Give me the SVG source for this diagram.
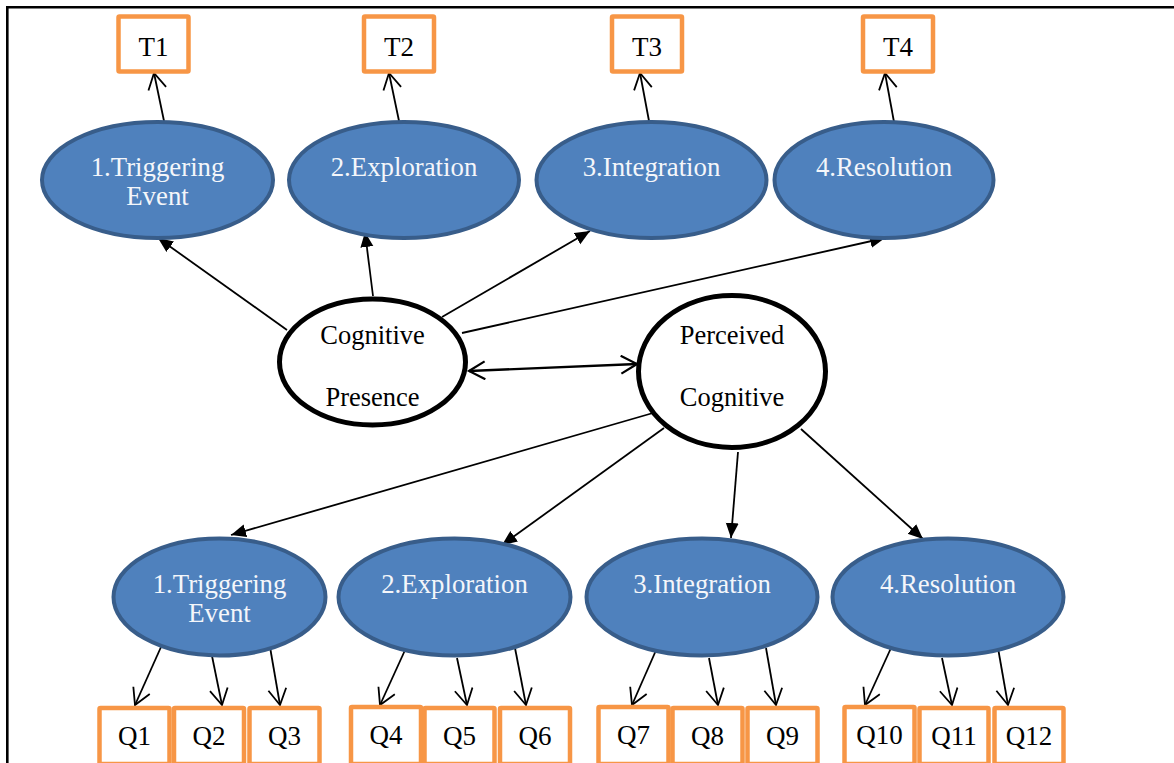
<svg xmlns="http://www.w3.org/2000/svg" width="1174" height="763" viewBox="0 0 1174 763">
<style>
.frame{fill:none;stroke:#000;stroke-width:2.6}
.box{fill:#fff;stroke:#F79646;stroke-width:4.5}
.lat{fill:#4F81BD;stroke:#385D8A;stroke-width:4}
.main{fill:#fff;stroke:#000;stroke-width:5}
.bt{font-family:"Liberation Serif","Times New Roman",serif;font-size:27px;fill:#000;text-anchor:middle}
.lt{font-family:"Liberation Serif","Times New Roman",serif;font-size:26.8px;fill:#F4F6FA;text-anchor:middle}
.ct{font-family:"Liberation Serif","Times New Roman",serif;font-size:26.5px;fill:#000;text-anchor:middle}
.c{stroke:#000;stroke-width:1.8;fill:none}
.cf{stroke:#000;stroke-width:1.8;fill:none;marker-end:url(#tri)}
.co{stroke:#000;stroke-width:1.8;fill:none;marker-end:url(#vee)}
</style>
<defs>
<marker id="tri" markerUnits="userSpaceOnUse" markerWidth="16" markerHeight="14" refX="15" refY="6.5" orient="auto" viewBox="0 0 16 14">
<path d="M0,0 L15,6.5 L0,13 z" fill="#000"/>
</marker>
<marker id="vee" markerUnits="userSpaceOnUse" markerWidth="20" markerHeight="22" refX="17" refY="10" orient="auto" viewBox="0 0 20 22">
<path d="M1,1 L17,10 L1,19" fill="none" stroke="#000" stroke-width="1.8"/>
</marker>
<marker id="vee2" markerUnits="userSpaceOnUse" markerWidth="20" markerHeight="22" refX="17" refY="10" orient="auto-start-reverse" viewBox="0 0 20 22">
<path d="M1,1 L17,10 L1,19" fill="none" stroke="#000" stroke-width="2.2"/>
</marker>
</defs>
<rect width="1174" height="763" fill="#fff"/>
<path class="frame" d="M7.3,763 L7.3,7.3 L1174,7.3"/>

<g id="connectors">
<line class="co" x1="164" y1="121" x2="154" y2="73"/>
<line class="co" x1="399" y1="121" x2="389" y2="73"/>
<line class="co" x1="649" y1="121" x2="640" y2="73"/>
<line class="co" x1="894" y1="122" x2="885" y2="73"/>
<line class="cf" x1="287" y1="330" x2="158" y2="238"/>
<line class="cf" x1="373" y1="296" x2="365" y2="232"/>
<line class="cf" x1="442" y1="317" x2="590" y2="231"/>
<line class="cf" x1="462" y1="333" x2="885" y2="238"/>
<line x1="469" y1="371" x2="637" y2="364" stroke="#000" stroke-width="2.4" marker-start="url(#vee2)" marker-end="url(#vee2)"/>
<line class="cf" x1="653" y1="413" x2="231" y2="535"/>
<line class="cf" x1="664" y1="428" x2="502" y2="545"/>
<line class="cf" x1="738" y1="452" x2="731" y2="538"/>
<line class="cf" x1="801" y1="429" x2="923" y2="539"/>
<line class="co" x1="161" y1="647" x2="135" y2="705"/>
<line class="co" x1="212" y1="656" x2="222" y2="705"/>
<line class="co" x1="270" y1="647" x2="280" y2="705"/>
<line class="co" x1="406" y1="648" x2="380" y2="705"/>
<line class="co" x1="457" y1="658" x2="467" y2="705"/>
<line class="co" x1="515" y1="648" x2="526" y2="705"/>
<line class="co" x1="657" y1="648" x2="632" y2="705"/>
<line class="co" x1="709" y1="658" x2="718" y2="705"/>
<line class="co" x1="766" y1="648" x2="776" y2="705"/>
<line class="co" x1="891" y1="648" x2="865" y2="705"/>
<line class="co" x1="942" y1="658" x2="952" y2="705"/>
<line class="co" x1="998" y1="648" x2="1008" y2="705"/>
</g>

<g id="T1"><rect class="box" x="118.5" y="16.5" width="70" height="55" rx="1"/><text class="bt" x="153.5" y="56">T1</text></g>
<g id="T2"><rect class="box" x="364" y="16.5" width="70" height="55" rx="1"/><text class="bt" x="399" y="56">T2</text></g>
<g id="T3"><rect class="box" x="612" y="16.5" width="70" height="55" rx="1"/><text class="bt" x="647" y="56">T3</text></g>
<g id="T4"><rect class="box" x="863" y="16.5" width="70" height="55" rx="1"/><text class="bt" x="898" y="56">T4</text></g>

<g id="E1"><ellipse class="lat" cx="157.5" cy="180" rx="115.5" ry="58"/><text class="lt" x="157.5" y="176">1.Triggering</text><text class="lt" x="157.5" y="205">Event</text></g>
<g id="E2"><ellipse class="lat" cx="404" cy="180" rx="115" ry="58"/><text class="lt" x="404" y="176">2.Exploration</text></g>
<g id="E3"><ellipse class="lat" cx="651.5" cy="180" rx="115" ry="58"/><text class="lt" x="651.5" y="176">3.Integration</text></g>
<g id="E4"><ellipse class="lat" cx="884" cy="180" rx="109.5" ry="58"/><text class="lt" x="884" y="176">4.Resolution</text></g>

<g id="CP"><ellipse class="main" cx="372.5" cy="362" rx="93" ry="63"/><text class="ct" x="372.5" y="344">Cognitive</text><text class="ct" x="372.5" y="406">Presence</text></g>
<g id="PC"><ellipse class="main" cx="732" cy="371.5" rx="93.5" ry="76"/><text class="ct" x="732" y="344">Perceived</text><text class="ct" x="732" y="406">Cognitive</text></g>

<g id="B1"><ellipse class="lat" cx="219.5" cy="597" rx="106" ry="58.5"/><text class="lt" x="219.5" y="593">1.Triggering</text><text class="lt" x="219.5" y="622">Event</text></g>
<g id="B2"><ellipse class="lat" cx="454.5" cy="597" rx="116" ry="58.5"/><text class="lt" x="454.5" y="593">2.Exploration</text></g>
<g id="B3"><ellipse class="lat" cx="702" cy="597" rx="115.5" ry="58.5"/><text class="lt" x="702" y="593">3.Integration</text></g>
<g id="B4"><ellipse class="lat" cx="948" cy="597" rx="115.5" ry="58.5"/><text class="lt" x="948" y="593">4.Resolution</text></g>

<g id="Q1"><rect class="box" x="99.5" y="708" width="70" height="56" rx="1"/><text class="bt" x="134.5" y="745">Q1</text></g>
<g id="Q2"><rect class="box" x="174" y="708" width="70" height="56" rx="1"/><text class="bt" x="209" y="745">Q2</text></g>
<g id="Q3"><rect class="box" x="249.5" y="708" width="70" height="56" rx="1"/><text class="bt" x="284.5" y="745">Q3</text></g>
<g id="Q4"><rect class="box" x="351" y="707" width="70" height="57" rx="1"/><text class="bt" x="386" y="744">Q4</text></g>
<g id="Q5"><rect class="box" x="424.5" y="708" width="70" height="56" rx="1"/><text class="bt" x="459.5" y="745">Q5</text></g>
<g id="Q6"><rect class="box" x="500" y="708" width="70" height="56" rx="1"/><text class="bt" x="535" y="745">Q6</text></g>
<g id="Q7"><rect class="box" x="598.5" y="707" width="70" height="57" rx="1"/><text class="bt" x="633.5" y="744">Q7</text></g>
<g id="Q8"><rect class="box" x="672.5" y="708" width="70" height="56" rx="1"/><text class="bt" x="707.5" y="745">Q8</text></g>
<g id="Q9"><rect class="box" x="747.5" y="708" width="70" height="56" rx="1"/><text class="bt" x="782.5" y="745">Q9</text></g>
<g id="Q10"><rect class="box" x="844.5" y="707" width="70" height="57" rx="1"/><text class="bt" x="879.5" y="744">Q10</text></g>
<g id="Q11"><rect class="box" x="919.5" y="708" width="69" height="56" rx="1"/><text class="bt" x="954" y="745">Q11</text></g>
<g id="Q12"><rect class="box" x="994.5" y="708" width="69" height="56" rx="1"/><text class="bt" x="1029" y="745">Q12</text></g>
</svg>
